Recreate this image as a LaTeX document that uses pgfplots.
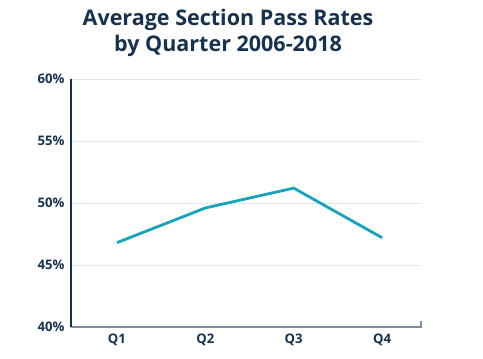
\documentclass[border=0pt]{standalone}
\usepackage{fontspec}
\setmainfont{Open Sans}
\usepackage{pgfplots}
\pgfplotsset{compat=1.18}
\definecolor{navy}{HTML}{16324F}
\definecolor{teal}{HTML}{17A2BE}
\definecolor{gridc}{HTML}{E4E8EE}
\definecolor{baseax}{HTML}{7D8C9C}
\begin{document}
\begin{tikzpicture}
\useasboundingbox (-71bp,-32bp) rectangle (412bp,327bp);
\begin{axis}[
  at={(0,0)}, anchor=south west,
  scale only axis, width=350bp, height=248bp,
  xmin=-0.52, xmax=3.44, ymin=40, ymax=60,
  xtick={0,1,2,3}, xticklabels={Q1,Q2,Q3,Q4},
  ytick={40,45,50,55,60},
  yticklabel={\pgfmathprintnumber{\tick}\%},
  /pgf/number format/assume math mode=true,
  ticklabel style={font=\fontsize{13.2}{15}\selectfont\bfseries, text=navy},
  yticklabel style={xshift=-3bp},
  xticklabel style={yshift=-3bp},
  major tick length=0pt,
  ymajorgrids, grid style={gridc, line width=0.8bp},
  axis x line*=bottom, axis y line*=left,
  x axis line style={baseax, line width=1.2bp, -},
  y axis line style={navy, line width=1.2bp, -},
  clip=false,
]
\addplot[teal, line width=2.8bp] coordinates {(0,46.8) (1,49.6) (2,51.2) (3,47.2)};
\draw[baseax, line width=1.2bp] (axis cs:3.44,39.95) -- (axis cs:3.44,40.5);
\end{axis}
\node[anchor=north, align=center, text=navy, font=\fontsize{21.6}{26}\selectfont\bfseries] at (157bp,321bp) {Average Section Pass Rates\\by Quarter 2006-2018};
\end{tikzpicture}
\end{document}
